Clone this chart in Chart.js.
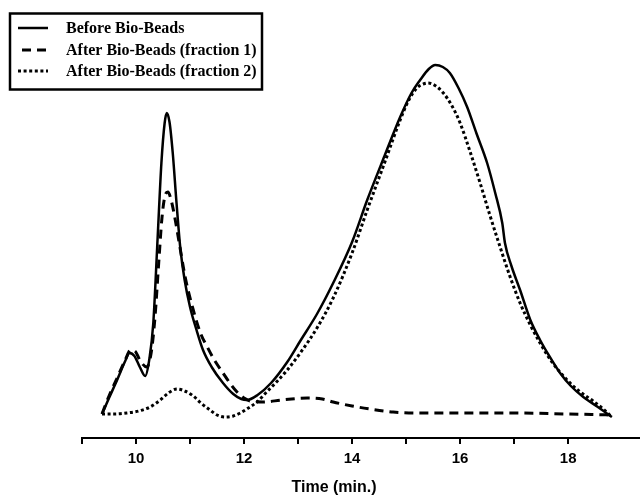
<!DOCTYPE html>
<html>
<head>
<meta charset="utf-8">
<script src="https://cdn.jsdelivr.net/npm/chart.js@4.4.0/dist/chart.umd.min.js"></script>
<style>
  body { margin: 0; background: #fff; }
  canvas { display: block; }
</style>
</head>
<body>
<canvas id="myChart" width="640" height="497"></canvas>
<script>
// retention time (min) and detector signal (arbitrary units)
const beforeTime = [9.37, 9.5, 9.65, 9.8, 9.88, 9.97, 10.07, 10.17, 10.25, 10.32, 10.4, 10.47, 10.53, 10.57, 10.62, 10.68, 10.75, 10.82, 10.9, 11.0, 11.12, 11.24, 11.4, 11.61, 11.8, 11.95, 12.05, 12.25, 12.5, 12.8, 13.04, 13.35, 13.65, 14.0, 14.28, 14.6, 14.89, 15.1, 15.26, 15.42, 15.54, 15.68, 15.81, 15.97, 16.13, 16.3, 16.5, 16.65, 16.78, 16.83, 16.95, 17.11, 17.3, 17.48, 17.65, 17.85, 18.05, 18.28, 18.55, 18.81];
const beforeSignal = [24, 40, 58, 77, 85, 82, 71, 62, 80, 115, 200, 275, 315, 325, 316, 285, 235, 190, 158, 131, 108, 88, 71, 55, 44, 39, 38, 43, 55, 76, 97, 124, 155, 196, 238, 282, 321, 345, 358, 369, 373, 371, 365, 350, 331, 305, 275, 245, 215, 195, 172, 148, 118, 98, 82, 65, 52, 41, 31, 21];

const frac1Time = [9.37, 9.5, 9.65, 9.8, 9.9, 9.98, 10.08, 10.2, 10.28, 10.35, 10.42, 10.48, 10.54, 10.59, 10.65, 10.72, 10.8, 10.91, 11.06, 11.2, 11.31, 11.45, 11.61, 11.75, 11.87, 12.0, 12.11, 12.35, 12.7, 13.17, 13.45, 13.65, 14.0, 14.33, 14.76, 15.2, 16.0, 17.0, 18.0, 18.81];
const frac1Signal = [24, 42, 60, 78, 88, 87, 77, 71, 85, 120, 175, 220, 243, 246, 238, 220, 195, 161, 128, 104, 92, 78, 65, 54, 46, 40, 37, 36, 38, 40, 39, 36, 32, 29, 26, 25, 25, 25, 24, 23];

const frac2Time = [9.37, 9.6, 9.83, 10.05, 10.26, 10.45, 10.6, 10.76, 10.9, 11.06, 11.2, 11.37, 11.5, 11.65, 11.8, 11.93, 12.08, 12.24, 12.4, 12.6, 12.8, 13.04, 13.35, 13.65, 14.0, 14.28, 14.6, 14.89, 15.05, 15.2, 15.32, 15.41, 15.55, 15.69, 15.85, 16.0, 16.18, 16.37, 16.55, 16.74, 16.92, 17.11, 17.3, 17.48, 17.7, 17.98, 18.2, 18.46, 18.65, 18.81];
const frac2Signal = [24, 24, 25, 27, 31, 38, 45, 49, 47, 42, 35, 28, 23, 21, 22, 25, 30, 36, 45, 56, 68, 85, 110, 140, 185, 228, 275, 318, 338, 350, 354, 355, 352, 345, 332, 315, 287, 255, 223, 191, 162, 135, 113, 95, 76, 58, 47, 37, 29, 21];

const seriesNames = ["Before Bio-Beads", "After Bio-Beads (fraction 1)", "After Bio-Beads (fraction 2)"];
const xTitle = "Time (min.)";

function toPoints(xs, ys) {
  return xs.map((x, i) => ({ x: x, y: ys[i] }));
}

// boxed legend in the top left corner and the axis title
const extras = {
  id: "extras",
  afterDraw(chart) {
    const ctx = chart.ctx;
    ctx.save();
    ctx.strokeStyle = "#000";
    ctx.lineWidth = 2.5;
    ctx.setLineDash([]);
    ctx.strokeRect(10, 13.5, 252, 76);

    const rows = [28, 50, 71];
    chart.data.datasets.forEach((ds, i) => {
      ctx.beginPath();
      ctx.lineWidth = ds.borderWidth;
      ctx.setLineDash(ds.borderDash || []);
      ctx.lineCap = "butt";
      ctx.moveTo(i == 1 ? 22 : 18, rows[i]);
      ctx.lineTo(48, rows[i]);
      ctx.stroke();
    });
    ctx.setLineDash([]);
    ctx.fillStyle = "#000";
    ctx.font = 'bold 16px "Liberation Serif"';
    ctx.textBaseline = "middle";
    ctx.textAlign = "left";
    chart.data.datasets.forEach((ds, i) => {
      ctx.fillText(ds.label, 66, rows[i] + 1);
    });

    ctx.font = 'bold 16px "Liberation Sans"';
    ctx.textAlign = "center";
    ctx.fillText(xTitle, 334, 488);
    ctx.restore();
  }
};

let ctx = document.getElementById("myChart").getContext("2d");
let chart = new Chart(ctx, {
  type: "line",
  data: {
    datasets: [
      {
        label: seriesNames[0],
        data: toPoints(beforeTime, beforeSignal),
        borderColor: "#000",
        borderWidth: 2.5,
      },
      {
        label: seriesNames[1],
        data: toPoints(frac1Time, frac1Signal),
        borderColor: "#000",
        borderWidth: 3,
        borderDash: [9, 6],
      },
      {
        label: seriesNames[2],
        data: toPoints(frac2Time, frac2Signal),
        borderColor: "#000",
        borderWidth: 3,
        borderDash: [3, 2.6],
      },
    ],
  },
  options: {
    responsive: false,
    devicePixelRatio: 1,
    animation: false,
    elements: {
      point: { radius: 0 },
      line: { cubicInterpolationMode: "monotone", fill: false },
    },
    layout: { padding: { left: 82, right: 0, top: 10, bottom: 0 } },
    plugins: {
      legend: { display: false },
      tooltip: { enabled: false },
    },
    scales: {
      x: {
        type: "linear",
        min: 9,
        max: 19.33,
        afterBuildTicks: (scale) => {
          scale.ticks = scale.ticks.filter((t) => Number.isInteger(t.value));
        },
        afterFit: (scale) => {
          scale.height = 59;
        },
        ticks: {
          stepSize: 1,
          autoSkip: false,
          maxRotation: 0,
          padding: 6,
          color: "#000",
          font: { family: "Liberation Sans", size: 15, weight: "bold" },
          callback: (v) => (v % 2 === 0 ? v : ""),
        },
        grid: {
          drawOnChartArea: false,
          drawTicks: true,
          tickLength: 6,
          color: "#000",
          lineWidth: 2,
        },
        border: { display: true, color: "#000", width: 2 },
      },
      y: {
        display: false,
        min: 0,
        max: 428,
      },
    },
  },
  plugins: [extras],
});
</script>
</body>
</html>
